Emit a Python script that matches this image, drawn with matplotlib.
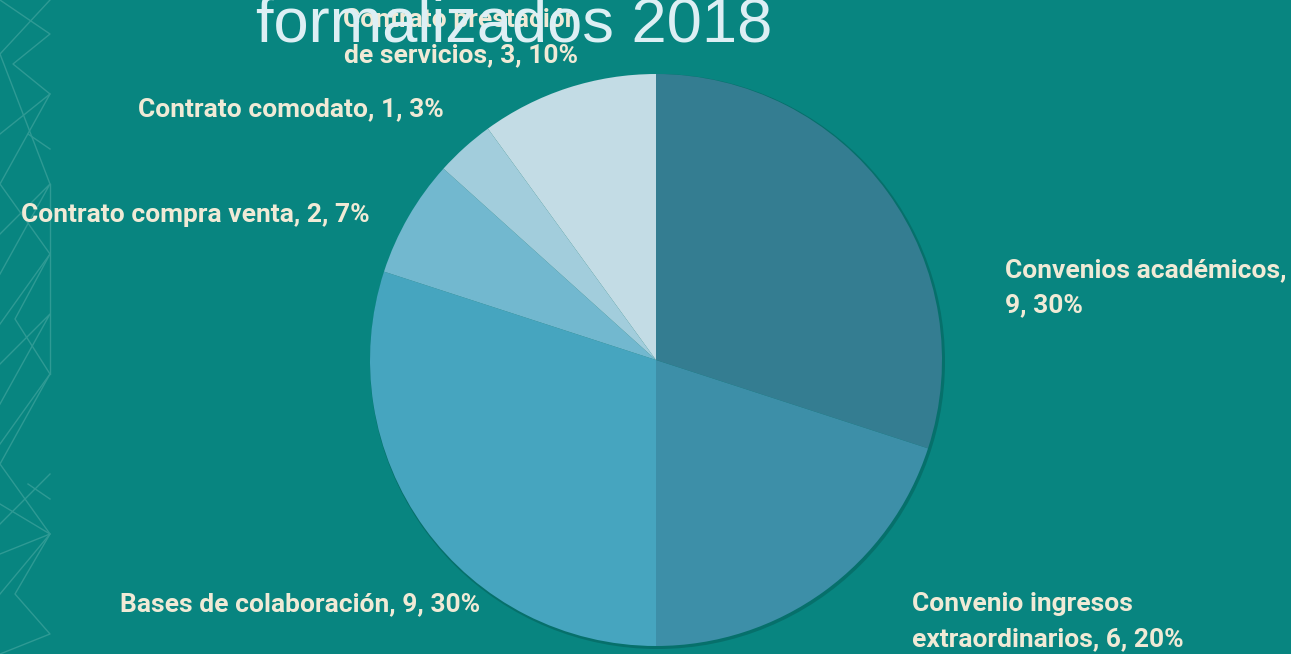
import matplotlib
matplotlib.use("Agg")
import matplotlib.pyplot as plt
from matplotlib.patches import Circle

# Data
categories = ["Convenios académicos", "Convenio ingresos extraordinarios",
              "Bases de colaboración", "Contrato compra venta",
              "Contrato comodato", "Contrato prestación de servicios"]
values = [9, 6, 9, 2, 1, 3]
percents = [30, 20, 30, 7, 3, 10]
label_texts = ["Convenios académicos,\n9, 30%",
               "Convenio ingresos\nextraordinarios, 6, 20%",
               "Bases de colaboración, 9, 30%",
               "Contrato compra venta, 2, 7%",
               "Contrato comodato, 1, 3%",
               "Contrato prestación\nde servicios, 3, 10%"]
title_text = "formalizados 2018"

colors = ["#347D91", "#3D8FA8", "#46A5BF", "#72B8CF", "#A2CDDC", "#C3DCE5"]
bg = "#088580"
label_color = "#F0EAD6"

W, H = 1291, 654
fig = plt.figure(figsize=(W / 100, H / 100), dpi=100, facecolor=bg)
ax = fig.add_axes([0, 0, 1, 1])
ax.set_xlim(0, W)
ax.set_ylim(0, H)
ax.set_aspect("equal")
ax.axis("off")
ax.set_facecolor(bg)

# decorative pattern on left edge
pc = "#2E9A94"
pts_sets = [
    [(0, 654), (50, 620), (13, 590), (50, 560), (0, 520)],
    [(50, 654), (0, 600), (50, 470)],
    [(50, 560), (0, 470), (50, 400), (0, 330)],
    [(0, 420), (50, 470), (0, 380)],
    [(50, 400), (15, 335), (50, 280), (0, 210)],
    [(50, 470), (50, 280)],
    [(0, 290), (50, 340), (0, 250)],
    [(50, 280), (0, 190), (50, 120), (0, 60)],
    [(0, 150), (50, 120), (0, 100)],
    [(50, 120), (15, 60), (50, 20), (0, 0)],
    [(50, 180), (0, 130)],
    [(28, 520), (50, 505)],
    [(28, 170), (50, 155)],
]
for pts in pts_sets:
    xs = [p[0] for p in pts]
    ys = [p[1] for p in pts]
    ax.plot(xs, ys, color=pc, lw=1.0, zorder=0)

cx, cy, r = 656, H - 360, 286
ax.add_patch(Circle((cx + 1.5, cy - 1.5), r + 1.5, color="#06706B", zorder=1, lw=0))
ax.pie(values, colors=colors, startangle=90, counterclock=False,
       center=(cx, cy), radius=r, frame=True,
       wedgeprops=dict(linewidth=0, zorder=2))
ax.set_xlim(0, W)
ax.set_ylim(0, H)
ax.axis("off")

fkw = dict(family=["Roboto", "DejaVu Sans"], fontweight="bold", fontsize=19,
           color=label_color, linespacing=1.58, zorder=3)
ax.text(1005, H - 288, label_texts[0], ha="left", va="center", **fkw)
ax.text(912, H - 622, label_texts[1], ha="left", va="center", **fkw)
ax.text(480, H - 604, label_texts[2], ha="right", va="center", **fkw)
ax.text(370, H - 215, label_texts[3], ha="right", va="center", **fkw)
ax.text(444, H - 109, label_texts[4], ha="right", va="center", **fkw)
ax.text(461, H - 38, label_texts[5], ha="center", va="center", **fkw)

ax.text(514, H - 42, title_text, ha="center", va="baseline",
        family=["Liberation Sans", "DejaVu Sans"], fontsize=45.5,
        color="#DDEFF4", zorder=5)

fig.savefig("out.png", dpi=100, facecolor=bg)
